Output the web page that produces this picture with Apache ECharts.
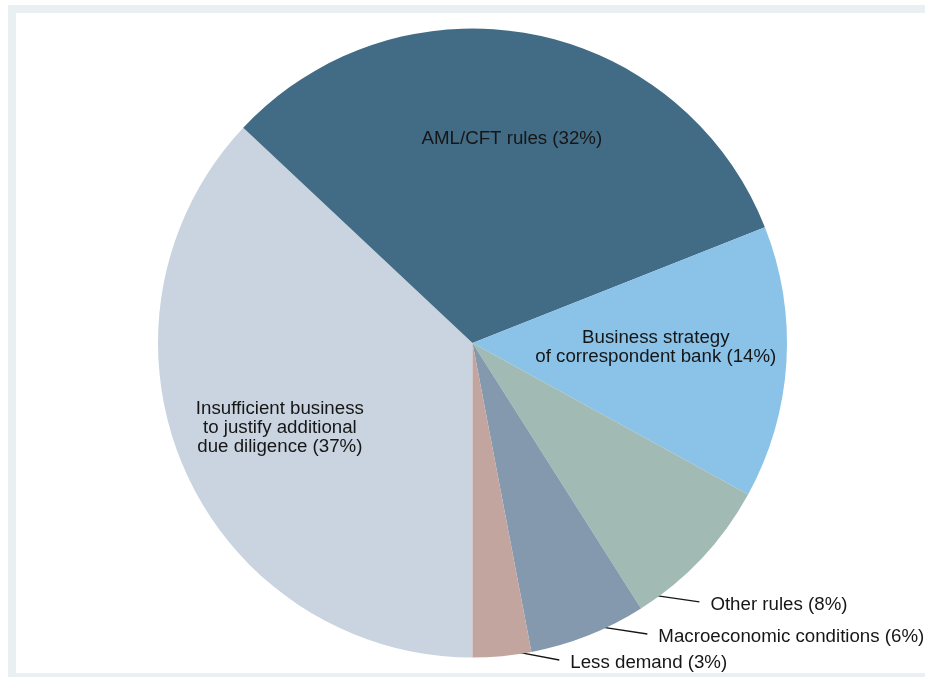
<!DOCTYPE html>
<html>
<head>
<meta charset="utf-8">
<script src="https://cdn.jsdelivr.net/npm/echarts@6/dist/echarts.min.js"></script>
<style>
  html, body { margin: 0; padding: 0; background: #ffffff; }
  #frame { position: absolute; left: 8px; top: 5px; width: 930px; height: 680px; background: #e8f0f2; }
  #inner { position: absolute; left: 16px; top: 13px; width: 920px; height: 660px; background: #ffffff; }
  #chart { position: absolute; left: 0; top: 0; width: 925px; height: 677px; }
</style>
</head>
<body>
<div id="frame"></div>
<div id="inner"></div>
<div id="chart"></div>
<script>
// ---- data ----
const categories = [
  'Insufficient business\nto justify additional\ndue diligence',
  'AML/CFT rules',
  'Business strategy\nof correspondent bank',
  'Other rules',
  'Macroeconomic conditions',
  'Less demand'
];
const shares = [37, 32, 14, 8, 6, 3];
const colors = ['#c9d4e0', '#426c85', '#8ac2e8', '#a2bab4', '#8498ae', '#c3a5a0'];

// ---- layout (label placement in polar terms: angle clockwise from 12 o'clock, radius fraction) ----
const CX = 472.5, CY = 343, R = 314.5;
const labelPlace = [
  { inside: true, a: 246.3, r: 0.669 },
  { inside: true, a: 10.9, r: 0.662 },
  { inside: true, a: 91.5, r: 0.583 },
  { inside: false, a: 137.75, r: 1.125, la: 144.0 },
  { inside: false, a: 147.7, r: 1.106, la: 155.5 },
  { inside: false, a: 163.0, r: 1.064, la: 171.7 }
];
function polar(aDeg, rFrac) {
  const a = aDeg * Math.PI / 180;
  return [CX + R * rFrac * Math.sin(a), CY - R * rFrac * Math.cos(a)];
}

const chart = echarts.init(document.getElementById('chart'), null, { renderer: 'canvas' });
const textStyle = {
  color: '#161616',
  fontFamily: '"Liberation Sans", Arial, sans-serif',
  fontSize: 18.7,
  lineHeight: 19
};

const data = categories.map((name, i) => ({
  name: name,
  value: shares[i],
  itemStyle: { color: colors[i] },
  label: Object.assign({
    show: true,
    position: labelPlace[i].inside ? 'inside' : 'outside',
    align: labelPlace[i].inside ? 'center' : 'left',
    formatter: '{b} ({c}%)'
  }, textStyle),
  labelLine: { show: !labelPlace[i].inside }
}));

chart.setOption({
  animation: false,
  backgroundColor: 'transparent',
  series: [{
    type: 'pie',
    center: [CX, CY],
    radius: [0, R],
    startAngle: -90,
    clockwise: true,
    avoidLabelOverlap: false,
    itemStyle: { borderWidth: 0 },
    labelLine: { lineStyle: { color: '#161616', width: 1.3 } },
    emphasis: { disabled: true },
    data: data,
    labelLayout: function (params) {
      const p = labelPlace[params.dataIndex];
      const pos = polar(p.a, p.r);
      if (p.inside) {
        return { x: pos[0], y: pos[1], align: 'center', verticalAlign: 'middle' };
      }
      const start = polar(p.la, 0.993);
      const end = [pos[0] - 11, pos[1] - 3];
      return {
        x: pos[0], y: pos[1], align: 'left', verticalAlign: 'middle',
        labelLinePoints: [start, end, end]
      };
    }
  }]
});
</script>
</body>
</html>
